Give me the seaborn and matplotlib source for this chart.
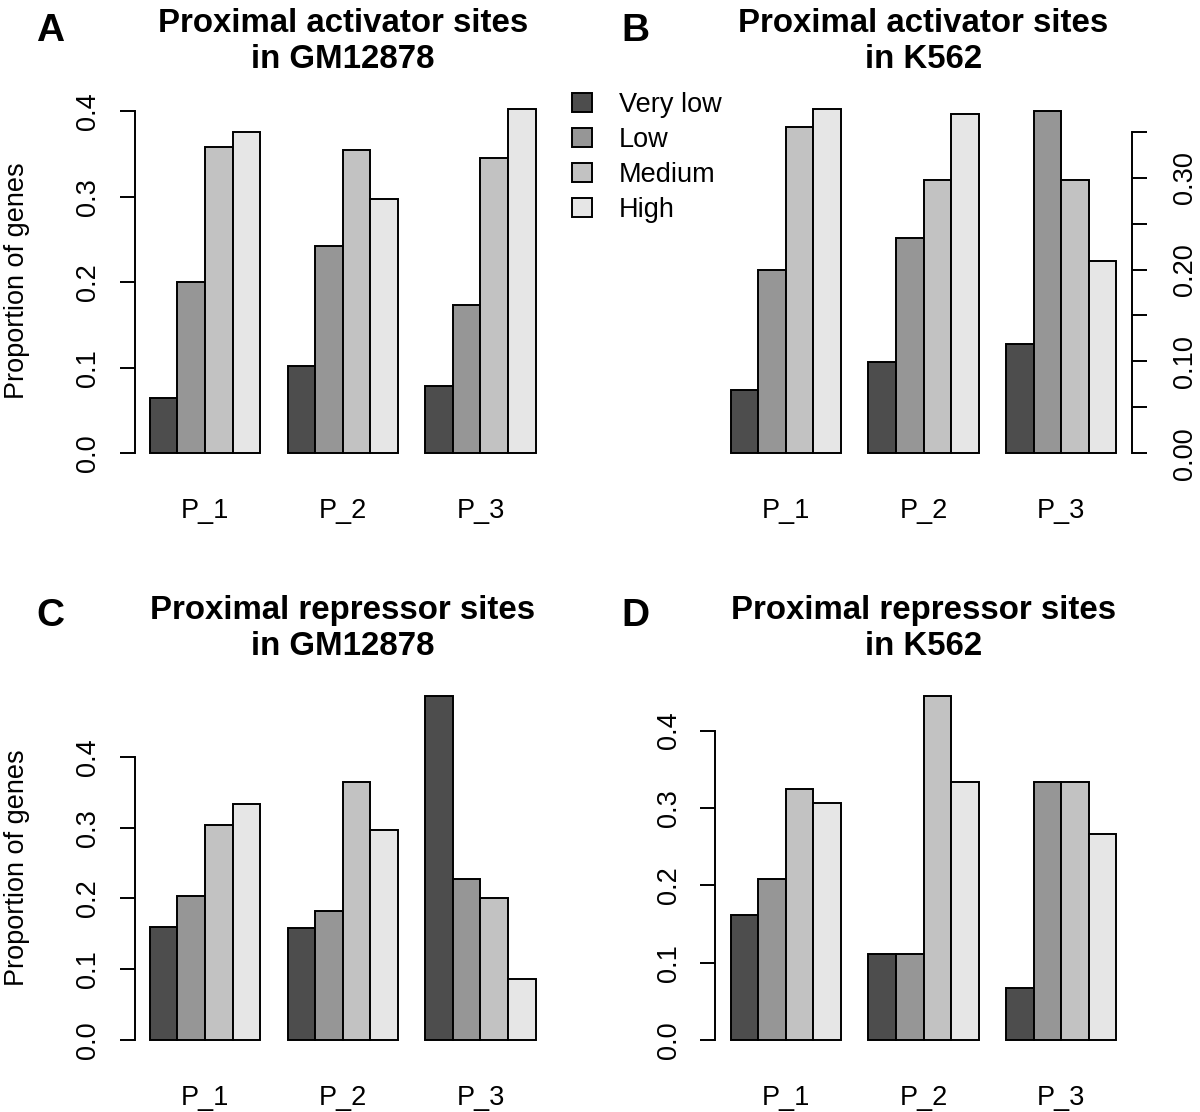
import matplotlib
matplotlib.use("Agg")
import matplotlib.pyplot as plt
from matplotlib.patches import Patch
import pandas as pd
import seaborn as sns

# values (rows: Very low, Low, Medium, High; columns: P_1, P_2, P_3)
levels = ["Very low", "Low", "Medium", "High"]
sites = ["P_1", "P_2", "P_3"]

activator_gm12878 = [[0.065, 0.102, 0.079],
                     [0.200, 0.243, 0.173],
                     [0.358, 0.355, 0.345],
                     [0.376, 0.298, 0.403]]
activator_k562 = [[0.069, 0.099, 0.119],
                  [0.200, 0.234, 0.373],
                  [0.355, 0.298, 0.298],
                  [0.375, 0.369, 0.209]]
repressor_gm12878 = [[0.160, 0.159, 0.486],
                     [0.203, 0.182, 0.228],
                     [0.304, 0.364, 0.200],
                     [0.333, 0.296, 0.086]]
repressor_k562 = [[0.162, 0.111, 0.067],
                  [0.208, 0.111, 0.333],
                  [0.324, 0.445, 0.333],
                  [0.307, 0.333, 0.267]]

grays = ["#4d4d4d", "#969696", "#c2c2c2", "#e6e6e6"]

panel_titles = [("Proximal activator sites", "in GM12878"),
                ("Proximal activator sites", "in K562"),
                ("Proximal repressor sites", "in GM12878"),
                ("Proximal repressor sites", "in K562")]
panel_letters = ["A", "B", "C", "D"]

sns.set_style("white")
plt.rcParams["font.family"] = ["Liberation Sans", "DejaVu Sans"]
plt.rcParams["text.color"] = "black"
plt.rcParams["axes.labelcolor"] = "black"
plt.rcParams["xtick.color"] = "black"
plt.rcParams["ytick.color"] = "black"

W, H = 1200, 1112
fig = plt.figure(figsize=(W / 100, H / 100), dpi=100)

# plot regions in pixels: left, top, right, bottom
regions = [(134.5, 95, 551, 467), (715.5, 95, 1131.5, 467),
           (134.5, 682, 551, 1054), (715.5, 682, 1131.5, 1054)]


def to_frame(vals):
    rows = []
    for lev, row in zip(levels, vals):
        for site, v in zip(sites, row):
            rows.append({"site": site, "level": lev, "prop": v})
    return pd.DataFrame(rows)


LAB = 19.5
datasets = [activator_gm12878, activator_k562, repressor_gm12878, repressor_k562]
for i, vals in enumerate(datasets):
    l, t, r, b = regions[i]
    ax = fig.add_axes([l / W, 1 - b / H, (r - l) / W, (b - t) / H])
    df = to_frame(vals)
    sns.barplot(data=df, x="site", y="prop", hue="level", hue_order=levels,
                order=sites, palette=grays, saturation=1, width=0.8,
                edgecolor="black", linewidth=1.4, legend=False, ax=ax)
    ymax = df["prop"].max()
    ax.set_ylim(-0.04 * ymax, 1.04 * ymax)
    ax.set_xlim(-0.512, 2.512)
    ax.set_xlabel("")
    ax.set_ylabel("")
    for s in ["top", "bottom", "left", "right"]:
        ax.spines[s].set_visible(False)
    ax.tick_params(axis="x", length=0, pad=22, labelsize=LAB, labelcolor="black")

    side = "right" if i == 1 else "left"
    if i == 1:
        ticks = [0.0, 0.05, 0.10, 0.15, 0.20, 0.25, 0.30, 0.35]
        labels = ["0.00", "", "0.10", "", "0.20", "", "0.30", ""]
        ax.yaxis.tick_right()
        ax.tick_params(axis="y", right=True, left=False)
        top = 0.35
        pad = 18
    else:
        ticks = [0.0, 0.1, 0.2, 0.3, 0.4]
        labels = ["0.0", "0.1", "0.2", "0.3", "0.4"]
        ax.tick_params(axis="y", left=True, right=False)
        top = 0.4
        pad = 13
    ax.spines[side].set_visible(True)
    ax.spines[side].set_bounds(0, top)
    ax.spines[side].set_linewidth(1.4)
    ax.spines[side].set_color("black")
    ax.set_yticks(ticks)
    ax.set_yticklabels(labels)
    ax.tick_params(axis="y", length=11, width=1.4, color="black",
                   labelcolor="black", labelsize=LAB, pad=pad, labelrotation=90)
    for lab in ax.get_yticklabels():
        lab.set_va("center")

    if i in (0, 2):
        ax.set_ylabel("Proportion of genes", fontsize=LAB, color="black")
        ax.yaxis.set_label_coords(-0.25, 0.5)

    # two-line bold title
    cx = (l + r) / 2 / W
    base = 32 if i < 2 else 619
    fig.text(cx, 1 - base / H, panel_titles[i][0], ha="center", va="baseline",
             fontsize=23.8, fontweight="bold")
    fig.text(cx, 1 - (base + 36) / H, panel_titles[i][1], ha="center",
             va="baseline", fontsize=23.8, fontweight="bold")
    lx = 36 if i in (0, 2) else 621
    ly = 41 if i < 2 else 626
    fig.text(lx / W, 1 - ly / H, panel_letters[i], ha="left", va="baseline",
             fontsize=28, fontweight="bold")

handles = [Patch(facecolor=c, edgecolor="black", linewidth=1.4) for c in grays]
fig.legend(handles, levels, loc="upper left", bbox_to_anchor=(572 / W, 1 - 92 / H),
           frameon=False, fontsize=LAB, handlelength=0.74, handleheight=0.74,
           handletextpad=1.0, labelspacing=0.33, borderpad=0, borderaxespad=0)

fig.savefig("out.png", dpi=100)
